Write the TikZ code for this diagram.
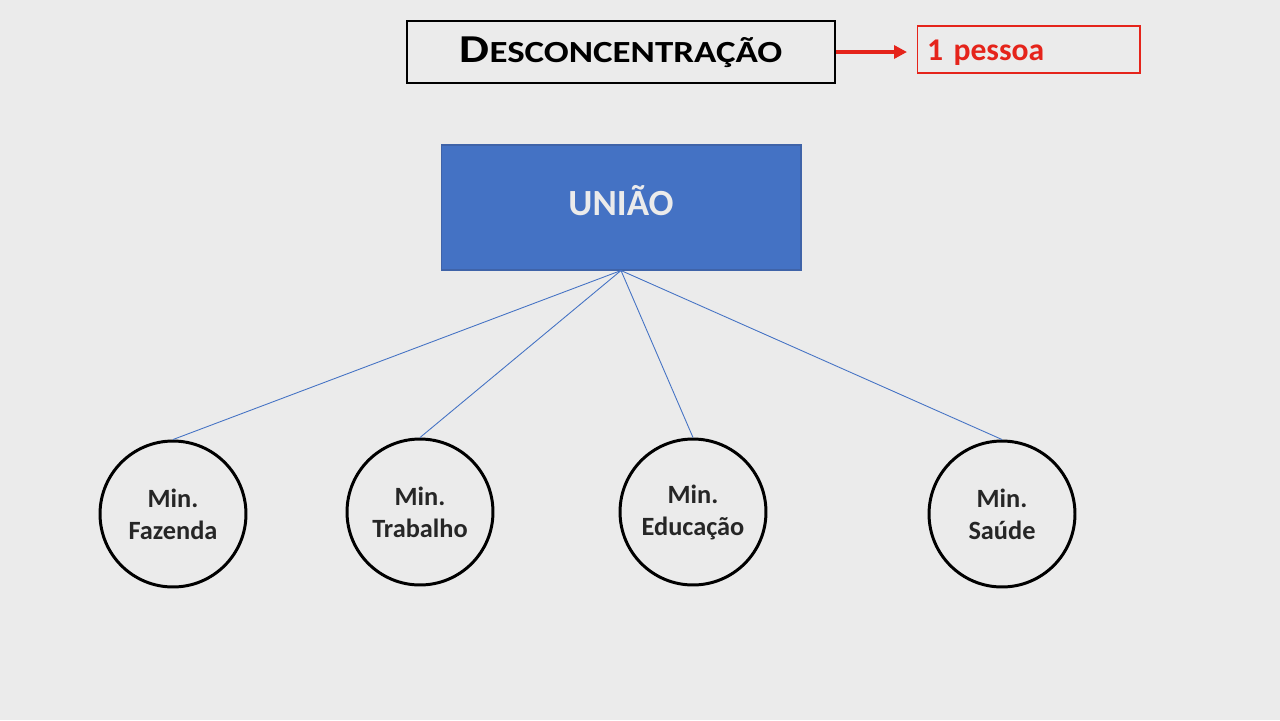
\documentclass[tikz,border=0pt]{standalone}
\usepackage{fontspec}
\setmainfont{Carlito}
\usepackage{graphicx}
\usepackage{tikz}
\usetikzlibrary{arrows.meta}

\definecolor{bgray}{HTML}{EBEBEB}
\definecolor{ublue}{HTML}{4472C4}
\definecolor{ublueline}{HTML}{3F63A8}
\definecolor{pred}{HTML}{E5241B}

\tikzset{
  minbox/.style={circle, draw=black, line width=1.7pt, minimum size=2.92cm, inner sep=0pt,
    align=center, font=\fontsize{15}{18.2}\selectfont\bfseries, text=black!85},
  titlebox/.style={draw=black, line width=1.1pt, fill=bgray, minimum width=8.56cm, minimum height=1.24cm,
    inner sep=0pt, text height=11.4pt, text depth=0pt},
  pessoabox/.style={draw=pred, line width=0.6pt, minimum height=0.94cm, text width=4.06cm, inner xsep=0.2cm,
    align=left, font=\fontsize{18}{20}\selectfont\bfseries, text=pred, text height=12pt, text depth=0pt},
  uniaobox/.style={draw=ublueline, fill=ublue, line width=0.6pt, minimum width=7.2cm, minimum height=2.5cm,
    font=\fontsize{21}{24}\selectfont\bfseries, text=bgray, text height=9pt, text depth=0pt},
  link/.style={draw=ublue, line width=0.5pt},
  redarrow/.style={draw=pred, line width=2pt, -{Triangle[length=0.26cm, width=0.26cm]}}
}

\begin{document}
\begin{tikzpicture}[x=0.02cm, y=-0.02cm]
        % Background
        \fill[bgray] (0,0) rectangle (1280,720);
        \useasboundingbox (0,0) rectangle (1280,720);

        % Coordinates
        \coordinate (ahead) at (907,52);

        % Nodes
        \node[titlebox] (T) at (621,52) {\scalebox{1.2}[1]{\bfseries\fontsize{22.5}{26}\selectfont D\fontsize{17.5}{22}\selectfont ESCONCENTRAÇÃO}};
        \node[pessoabox] (P) at (1028.5,49.5) {1 pessoa};
        \node[uniaobox] (U) at (621,207.5) {UNIÃO};
        \node[minbox] (F) at (173,514) {Min.\\Fazenda};
        \node[minbox] (TR) at (420,512) {Min.\\Trabalho};
        \node[minbox] (E) at (693,512) {Min.\\Educação};
        \node[minbox] (S) at (1002,514) {Min.\\Saúde};

        % Drawing
        \draw[redarrow] (T.east |- ahead) -- (ahead);
        \draw[link] (U.south) -- (F.north);
        \draw[link] (U.south) -- (TR.north);
        \draw[link] (U.south) -- (E.north);
        \draw[link] (U.south) -- (S.north);
    \end{tikzpicture}
\end{document}
